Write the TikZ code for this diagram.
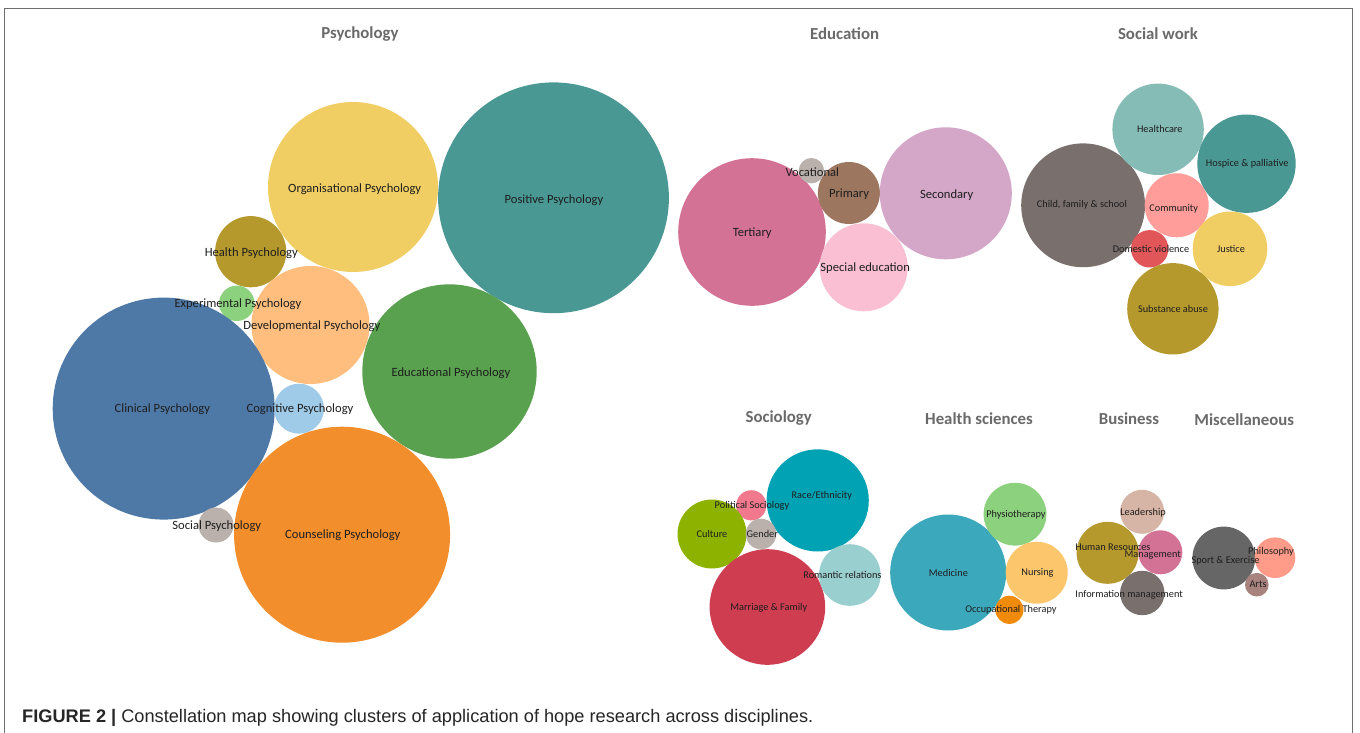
\documentclass[tikz,border=0pt]{standalone}
\usepackage{fontspec}
\setmainfont{Carlito}
\newfontfamily\capfont{Liberation Sans}
\definecolor{cTeal}{HTML}{499894}
\definecolor{cYel}{HTML}{F1CE63}
\definecolor{cOlive}{HTML}{B6992D}
\definecolor{cLGreen}{HTML}{8CD17D}
\definecolor{cLOrange}{HTML}{FFBE7D}
\definecolor{cGreen}{HTML}{59A14F}
\definecolor{cBlue}{HTML}{4E79A7}
\definecolor{cLBlue}{HTML}{A0CBE8}
\definecolor{cOrange}{HTML}{F28E2B}
\definecolor{cLGray}{HTML}{BAB0AC}
\definecolor{cPink}{HTML}{D37295}
\definecolor{cBrown}{HTML}{9D7660}
\definecolor{cLPurple}{HTML}{D4A6C8}
\definecolor{cLPink}{HTML}{FABFD2}
\definecolor{cGray}{HTML}{79706E}
\definecolor{cLTeal}{HTML}{86BCB6}
\definecolor{cSalmon}{HTML}{FF9D9A}
\definecolor{cRed}{HTML}{E15759}
\definecolor{cCyan}{HTML}{00A2B3}
\definecolor{cRose}{HTML}{F1788D}
\definecolor{cLime}{HTML}{8DB200}
\definecolor{cCrimson}{HTML}{CF3D51}
\definecolor{cAqua}{HTML}{9ACFD0}
\definecolor{cMed}{HTML}{3CA8BC}
\definecolor{cNurse}{HTML}{FCC66D}
\definecolor{cOcc}{HTML}{F08A0B}
\definecolor{cLBrown}{HTML}{D7B5A6}
\definecolor{cDGray}{HTML}{666666}
\definecolor{cPeach}{HTML}{FF9B88}
\definecolor{cMauve}{HTML}{A8837E}
\definecolor{cTitle}{HTML}{6A6A6A}
\definecolor{cLabel}{HTML}{1E1E1E}
\definecolor{cFrame}{HTML}{6E6E6E}
\newcommand\bub[5]{\node[bubble, fill=#5, minimum size={2*#4pt}] (#1) at (#2,#3) {};}
\begin{document}
\begin{tikzpicture}[x=1pt,y=-1pt,
  bubble/.style={circle, inner sep=0pt, outer sep=0pt, draw=none},
  lab/.style={inner sep=0pt, text=cLabel, font=\fontsize{12.6}{14}\selectfont},
  slab/.style={inner sep=0pt, text=cLabel, font=\fontsize{10.3}{12}\selectfont},
  ttl/.style={inner sep=0pt, text=cTitle, font=\fontsize{16.8}{19}\selectfont\bfseries},
  frame/.style={draw=cFrame, line width=1.5pt}]
\useasboundingbox (0,0) rectangle (1360,733);
\fill[white] (0,0) rectangle (1360,733);
\coordinate (fbl) at (4.5,740);
\coordinate (ftl) at (4.5,8.5);
\coordinate (ftr) at (1352.5,8.5);
\coordinate (fbr) at (1352.5,740);
\draw[frame] (fbl) -- (ftl) -- (ftr) -- (fbr);
% Psychology
\bub{pos}{553.5}{197.8}{115.4}{cTeal}
\bub{org}{353}{187}{85}{cYel}
\bub{hea}{250.7}{251.7}{35.6}{cOlive}
\bub{exp}{236.8}{303.3}{17.7}{cLGreen}
\bub{dev}{310.5}{325}{59}{cLOrange}
\bub{edu}{449.5}{371.5}{87.2}{cGreen}
\bub{cli}{163.7}{408.6}{111}{cBlue}
\bub{cog}{299}{408.7}{25}{cLBlue}
\bub{cou}{342.1}{534.7}{108}{cOrange}
\bub{soc}{216}{525}{17.5}{cLGray}
% Education
\bub{ter}{752}{232}{73.8}{cPink}
\bub{voc}{811.4}{170.7}{12.7}{cLGray}
\bub{pri}{848.9}{193}{31}{cBrown}
\bub{sec}{945.8}{193.3}{66}{cLPurple}
\bub{spe}{863.7}{267.3}{44}{cLPink}
% Social work
\bub{chi}{1083.1}{205.3}{61.9}{cGray}
\bub{hc}{1158.1}{129.3}{45.7}{cLTeal}
\bub{hos}{1246.5}{163.7}{49.2}{cTeal}
\bub{com}{1176.7}{205.3}{32}{cSalmon}
\bub{dom}{1149.7}{248.8}{18.7}{cRed}
\bub{jus}{1230}{248.8}{37.3}{cYel}
\bub{sub}{1172.9}{308.8}{45.7}{cOlive}
% Sociology
\bub{rac}{817.7}{500.4}{51.1}{cCyan}
\bub{pol}{751.3}{505.3}{15.1}{cRose}
\bub{cul}{712}{534}{34.5}{cLime}
\bub{gen}{761}{534}{15.3}{cLGray}
\bub{mar}{767.4}{607}{57.8}{cCrimson}
\bub{rom}{849.8}{575}{30.8}{cAqua}
% Health sciences
\bub{med}{948.2}{572.5}{58}{cMed}
\bub{phy}{1015}{514.2}{31.4}{cLGreen}
\bub{nur}{1036.7}{572.7}{31}{cNurse}
\bub{occ}{1009.4}{609.8}{14.1}{cOcc}
% Business
\bub{lea}{1142.1}{511.8}{22}{cLBrown}
\bub{hr}{1107.6}{552.8}{31}{cOlive}
\bub{man}{1160.3}{552.3}{22}{cPink}
\bub{inf}{1142.3}{593}{22.2}{cGray}
% Miscellaneous
\bub{spo}{1223.8}{558}{31.4}{cDGray}
\bub{phi}{1275}{557.7}{20.3}{cPeach}
\bub{art}{1256.8}{584.7}{11.8}{cMauve}
% Titles
\node[ttl] (tpsy) at (360,34) {Psychology};
\node[ttl] (tedu) at (844.6,34) {Education};
\node[ttl] (tsw) at (1157.9,34) {Social work};
\node[ttl] (tsoc) at (778.7,418.3) {Sociology};
\node[ttl] (thea) at (979,418.3) {Health sciences};
\node[ttl] (tbus) at (1129,418.3) {Business};
\node[ttl] (tmis) at (1244.2,419.3) {Miscellaneous};
% Psychology labels
\node[lab] (lpos) at (554,200) {Positive Psychology};
\node[lab] (lorg) at (354.7,189) {Organisational Psychology};
\node[lab] (lhea) at (251.3,253.3) {Health Psychology};
\node[lab] (lexp) at (237.9,304.7) {Experimental Psychology};
\node[lab] (ldev) at (311.8,326.7) {Developmental Psychology};
\node[lab] (ledu) at (451,373) {Educational Psychology};
\node[lab] (lcli) at (162.4,409.7) {Clinical Psychology};
\node[lab] (lcog) at (300,409.7) {Cognitive Psychology};
\node[lab] (lsoc) at (216.8,526.7) {Social Psychology};
\node[lab] (lcou) at (342.8,535.7) {Counseling Psychology};
% Education labels
\node[lab] (lvoc) at (812.3,172) {Vocational};
\node[lab] (lpri) at (849.1,194) {Primary};
\node[lab] (lsec) at (946.7,195) {Secondary};
\node[lab] (lter) at (752.2,233.3) {Tertiary};
\node[lab] (lspe) at (865.2,268.3) {Special education};
% Social work labels
\node[slab] (lhc) at (1159.8,129) {Healthcare};
\node[slab] (lhos) at (1247.2,163.7) {Hospice \& palliative};
\node[slab] (lchi) at (1082,204.3) {Child, family \& school};
\node[slab] (lcom) at (1173.7,208.3) {Community};
\node[slab] (ldom) at (1151,248.7) {Domestic violence};
\node[slab] (ljus) at (1231,249) {Justice};
\node[slab] (lsub) at (1173,309.3) {Substance abuse};
% Sociology labels
\node[slab] (lrac) at (821.8,495.5) {Race/Ethnicity};
\node[slab] (lpol) at (752,505.5) {Political Sociology};
\node[slab] (lcul) at (712,534) {Culture};
\node[slab] (lgen) at (762.3,534) {Gender};
\node[slab, anchor=west] (lrom) at (803.2,574.7) {Romantic relations};
\node[slab] (lmar) at (768.8,607.7) {Marriage \& Family};
% Health labels
\node[slab] (lmed) at (948.4,572.7) {Medicine};
\node[slab] (lphy) at (1015.9,514.3) {Physiotherapy};
\node[slab] (lnur) at (1037.5,573) {Nursing};
\node[slab] (locc) at (1010.9,609.7) {Occupational Therapy};
% Business labels
\node[slab] (llea) at (1143.1,512.3) {Leadership};
\node[slab] (lhr) at (1112.9,547) {Human Resources};
\node[slab] (lman) at (1152.7,555) {Management};
\node[slab] (linf) at (1129.1,594.8) {Information management};
% Misc labels
\node[slab] (lspo) at (1225.5,560.7) {Sport \& Exercise};
\node[slab] (lphi) at (1271,551.7) {Philosophy};
\node[slab] (lart) at (1258,584.7) {Arts};
% Caption
\node[anchor=base west, inner sep=0pt, font=\capfont\fontsize{18.2}{21}\selectfont, text=black!85] (cap) at (22,722.5)
  {\textbf{FIGURE 2 |} Constellation map showing clusters of application of hope research across disciplines.};
\end{tikzpicture}
\end{document}
